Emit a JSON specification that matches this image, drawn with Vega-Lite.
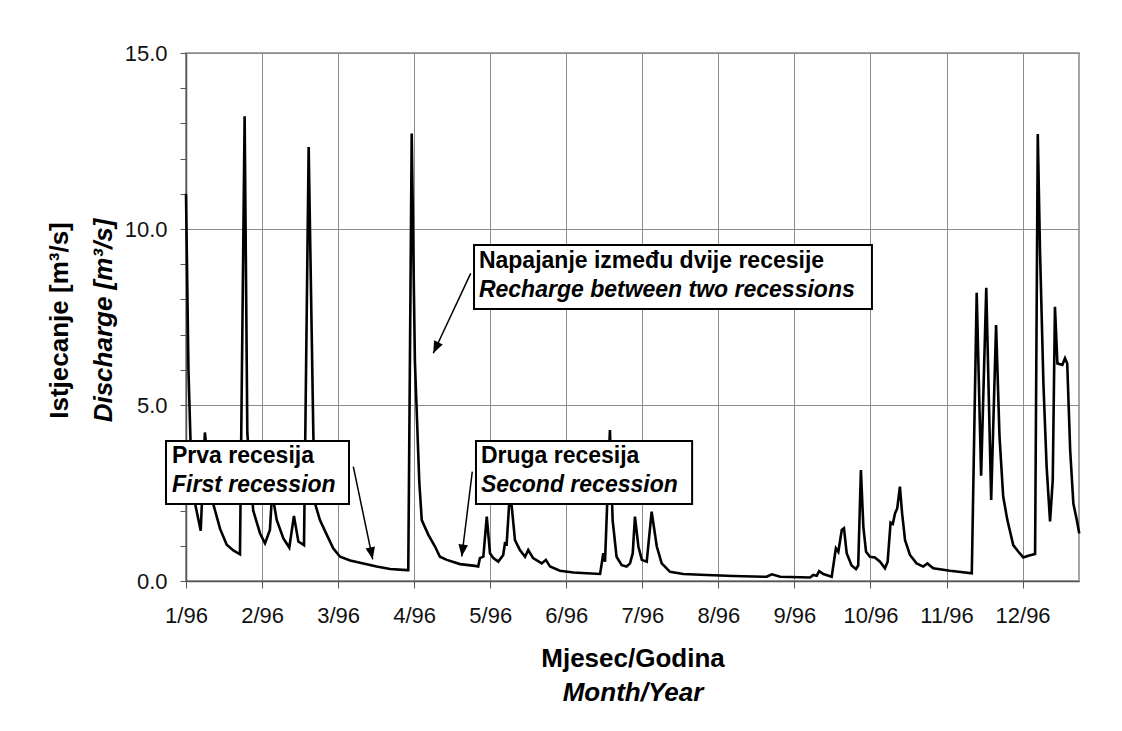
{
  "$schema": "https://vega.github.io/schema/vega-lite/v6.json",
  "width": 893,
  "height": 528,
  "autosize": {"type": "none"},
  "padding": {"left": 186, "top": 53, "right": 43, "bottom": 150},
  "background": "white",
  "config": {
    "view": {"stroke": "#a6a6a6", "strokeWidth": 2},
    "font": "Liberation Sans"
  },
  "datasets": {
    "flow": [
      {"day": 0, "q": 11.0}, {"day": 1.0, "q": 6.0}, {"day": 2.0, "q": 3.6}, {"day": 3.7, "q": 2.2},
      {"day": 6.0, "q": 1.43}, {"day": 7.7, "q": 4.22}, {"day": 9.0, "q": 3.3}, {"day": 11.1, "q": 2.19},
      {"day": 13.9, "q": 1.48}, {"day": 16.6, "q": 1.03}, {"day": 19.3, "q": 0.87}, {"day": 22.0, "q": 0.76},
      {"day": 23.9, "q": 13.2}, {"day": 25.0, "q": 4.2}, {"day": 27.4, "q": 2.0}, {"day": 30.2, "q": 1.35},
      {"day": 32.2, "q": 1.07}, {"day": 34.2, "q": 1.45}, {"day": 35.1, "q": 2.5}, {"day": 37.0, "q": 1.73},
      {"day": 39.7, "q": 1.21}, {"day": 42.1, "q": 0.95}, {"day": 44.0, "q": 1.85}, {"day": 45.8, "q": 1.12},
      {"day": 48.1, "q": 1.02}, {"day": 50.0, "q": 12.33}, {"day": 51.9, "q": 4.2}, {"day": 52.6, "q": 2.2},
      {"day": 54.6, "q": 1.73}, {"day": 57.4, "q": 1.31}, {"day": 60.0, "q": 0.93}, {"day": 62.8, "q": 0.69},
      {"day": 66.9, "q": 0.58}, {"day": 72.3, "q": 0.5}, {"day": 77.7, "q": 0.41}, {"day": 83.2, "q": 0.34},
      {"day": 90.0, "q": 0.31}, {"day": 90.6, "q": 0.31}, {"day": 92.0, "q": 12.71}, {"day": 93.3, "q": 6.25},
      {"day": 95.1, "q": 2.8}, {"day": 96.1, "q": 1.73}, {"day": 98.8, "q": 1.31}, {"day": 101.5, "q": 0.98},
      {"day": 103.5, "q": 0.69}, {"day": 106.3, "q": 0.6}, {"day": 111.7, "q": 0.48}, {"day": 117.8, "q": 0.43},
      {"day": 119.1, "q": 0.41}, {"day": 119.8, "q": 0.65}, {"day": 121.2, "q": 0.69}, {"day": 122.6, "q": 1.83},
      {"day": 123.9, "q": 0.79}, {"day": 125.3, "q": 0.65}, {"day": 127.3, "q": 0.55}, {"day": 129.3, "q": 0.74},
      {"day": 130.0, "q": 1.07}, {"day": 130.7, "q": 1.05}, {"day": 132.1, "q": 2.6}, {"day": 134.1, "q": 1.16},
      {"day": 136.1, "q": 0.88}, {"day": 138.2, "q": 0.69}, {"day": 139.5, "q": 0.88}, {"day": 141.5, "q": 0.65},
      {"day": 145.0, "q": 0.5}, {"day": 146.7, "q": 0.6}, {"day": 148.4, "q": 0.41}, {"day": 152.4, "q": 0.29},
      {"day": 157.9, "q": 0.24}, {"day": 163.3, "q": 0.22}, {"day": 168.8, "q": 0.2}, {"day": 170.1, "q": 0.79},
      {"day": 170.8, "q": 0.55}, {"day": 172.8, "q": 4.29}, {"day": 173.9, "q": 1.73}, {"day": 175.5, "q": 0.69},
      {"day": 177.6, "q": 0.45}, {"day": 179.6, "q": 0.41}, {"day": 181.0, "q": 0.5}, {"day": 182.1, "q": 0.79},
      {"day": 183.0, "q": 1.83}, {"day": 184.4, "q": 0.98}, {"day": 185.8, "q": 0.6}, {"day": 187.8, "q": 0.55},
      {"day": 189.8, "q": 1.97}, {"day": 191.9, "q": 0.98}, {"day": 193.9, "q": 0.5}, {"day": 197.3, "q": 0.26},
      {"day": 202.7, "q": 0.2}, {"day": 212.2, "q": 0.17}, {"day": 223.1, "q": 0.14}, {"day": 236.7, "q": 0.12},
      {"day": 238.8, "q": 0.19}, {"day": 242.2, "q": 0.12}, {"day": 254.4, "q": 0.1}, {"day": 255.7, "q": 0.17},
      {"day": 257.1, "q": 0.15}, {"day": 258.1, "q": 0.28}, {"day": 259.8, "q": 0.2}, {"day": 263.2, "q": 0.12},
      {"day": 264.9, "q": 0.93}, {"day": 265.9, "q": 0.83}, {"day": 267.3, "q": 1.45}, {"day": 268.2, "q": 1.5},
      {"day": 269.3, "q": 0.79}, {"day": 271.3, "q": 0.44}, {"day": 273.1, "q": 0.34}, {"day": 274.0, "q": 0.44},
      {"day": 275.1, "q": 3.15}, {"day": 276.1, "q": 1.54}, {"day": 277.2, "q": 0.83}, {"day": 278.8, "q": 0.69},
      {"day": 280.8, "q": 0.67}, {"day": 282.9, "q": 0.55}, {"day": 284.9, "q": 0.36}, {"day": 286.0, "q": 0.55},
      {"day": 287.2, "q": 1.66}, {"day": 288.1, "q": 1.62}, {"day": 289.0, "q": 1.92}, {"day": 289.9, "q": 2.06},
      {"day": 291.0, "q": 2.68}, {"day": 291.9, "q": 1.92}, {"day": 293.1, "q": 1.16}, {"day": 295.1, "q": 0.74},
      {"day": 297.8, "q": 0.5}, {"day": 300.5, "q": 0.41}, {"day": 302.2, "q": 0.5}, {"day": 304.6, "q": 0.36},
      {"day": 311.4, "q": 0.29}, {"day": 320.3, "q": 0.22}, {"day": 322.3, "q": 8.19}, {"day": 324.1, "q": 2.99},
      {"day": 326.2, "q": 8.33}, {"day": 328.2, "q": 2.3}, {"day": 330.2, "q": 7.27}, {"day": 331.6, "q": 4.1},
      {"day": 333.1, "q": 2.4}, {"day": 334.8, "q": 1.73}, {"day": 337.2, "q": 1.02}, {"day": 339.3, "q": 0.83},
      {"day": 341.3, "q": 0.67}, {"day": 343.3, "q": 0.72}, {"day": 346.1, "q": 0.77}, {"day": 347.2, "q": 12.7},
      {"day": 348.1, "q": 9.4}, {"day": 349.5, "q": 5.6}, {"day": 350.8, "q": 3.25}, {"day": 352.2, "q": 1.69},
      {"day": 353.3, "q": 2.87}, {"day": 354.2, "q": 7.79}, {"day": 355.2, "q": 6.18}, {"day": 357.2, "q": 6.14},
      {"day": 358.3, "q": 6.33}, {"day": 359.2, "q": 6.18}, {"day": 360.4, "q": 3.72}, {"day": 361.7, "q": 2.2},
      {"day": 363.1, "q": 1.73}, {"day": 364.1, "q": 1.35}
    ],
    "boxes": [
      {"id": "recharge", "x1": 117.4, "x2": 279.6, "y1": 9.545, "y2": 7.727},
      {"id": "first", "x1": -8.15, "x2": 66.44, "y1": 3.977, "y2": 2.1875},
      {"id": "second", "x1": 118.2, "x2": 206.3, "y1": 3.977, "y2": 2.1875}
    ],
    "labels": [
      {"x": 119.4, "y": 8.892, "lang": "hr", "text": "Napajanje između dvije recesije"},
      {"x": 119.4, "y": 8.068, "lang": "en", "text": "Recharge between two recessions"},
      {"x": -5.7, "y": 3.361, "lang": "hr", "text": "Prva recesija"},
      {"x": -5.7, "y": 2.537, "lang": "en", "text": "First recession"},
      {"x": 120.2, "y": 3.361, "lang": "hr", "text": "Druga recesija"},
      {"x": 120.2, "y": 2.537, "lang": "en", "text": "Second recession"}
    ],
    "arrows": [
      {"id": "recharge", "x": 116.05, "y": 8.74, "x2": 100.8, "y2": 6.47},
      {"id": "first", "x": 68.2, "y": 3.25, "x2": 76.1, "y2": 0.617},
      {"id": "second", "x": 116.7, "y": 3.105, "x2": 112.4, "y2": 0.696}
    ]
  },
  "resolve": {"axis": {"x": "independent", "y": "independent"}},
  "layer": [
    {
      "data": {"name": "flow"},
      "mark": {"type": "line", "color": "black", "strokeWidth": 2.6, "strokeJoin": "miter", "strokeMiterLimit": 3},
      "encoding": {
        "x": {
          "field": "day", "type": "quantitative",
          "scale": {"domain": [0, 364], "nice": false, "zero": false},
          "axis": {
            "orient": "bottom",
            "values": [0, 31, 62, 93, 124, 155, 186, 217, 248, 279, 310, 341],
            "labelExpr": "(round(datum.value / 31) + 1) + '/96'",
            "grid": true, "gridColor": "#8c8c8c", "gridWidth": 1,
            "domainColor": "#555555", "domainWidth": 1.5,
            "tickColor": "#555555", "tickSize": 7, "tickWidth": 1,
            "labelFont": "Liberation Sans", "labelFontSize": 22, "labelColor": "#111111",
            "labelPadding": 17, "labelFlush": false, "labelOverlap": false,
            "title": "Mjesec/Godina",
            "titleFont": "Liberation Sans", "titleFontSize": 26, "titleFontWeight": "bold", "titleColor": "black",
            "titleX": 446.5, "titleY": 85, "titleAlign": "center", "titleBaseline": "alphabetic", "titleAnchor": null
          }
        },
        "y": {
          "field": "q", "type": "quantitative",
          "scale": {"domain": [0, 15], "nice": false, "zero": true},
          "axis": {
            "orient": "left",
            "values": [0, 1, 2, 3, 4, 5, 6, 7, 8, 9, 10, 11, 12, 13, 14, 15],
            "labelExpr": "datum.value % 5 === 0 ? format(datum.value, '.1f') : ''",
            "grid": true, "gridColor": "#8c8c8c", "gridWidth": 1,
            "gridOpacity": {"condition": {"test": "datum.value % 5 === 0", "value": 1}, "value": 0},
            "domainColor": "#555555", "domainWidth": 1.5,
            "tickColor": "#555555", "tickSize": 6, "tickWidth": 1,
            "labelFont": "Liberation Sans", "labelFontSize": 22, "labelColor": "#111111",
            "labelPadding": 13, "labelFlush": false, "labelOverlap": false,
            "title": "Istjecanje [m³/s]",
            "titleFont": "Liberation Sans", "titleFontSize": 26, "titleFontWeight": "bold", "titleColor": "black",
            "titleAngle": 270, "titleX": -119, "titleY": 267, "titleAlign": "center", "titleBaseline": "alphabetic", "titleAnchor": null
          }
        }
      }
    },
    {
      "data": {"name": "boxes"},
      "mark": {"type": "rect", "fill": "white", "stroke": "black", "strokeWidth": 2},
      "encoding": {
        "x": {
          "field": "x1", "type": "quantitative",
          "axis": {
            "orient": "bottom", "labels": false, "ticks": false, "domain": false, "grid": false,
            "title": "Month/Year",
            "titleFont": "Liberation Sans", "titleFontSize": 26, "titleFontWeight": "bold", "titleFontStyle": "italic", "titleColor": "black",
            "titleX": 446.5, "titleY": 119, "titleAlign": "center", "titleBaseline": "alphabetic", "titleAnchor": null
          }
        },
        "x2": {"field": "x2"},
        "y": {
          "field": "y1", "type": "quantitative",
          "axis": {
            "orient": "left", "labels": false, "ticks": false, "domain": false, "grid": false,
            "title": "Discharge [m³/s]",
            "titleFont": "Liberation Sans", "titleFontSize": 26, "titleFontWeight": "bold", "titleFontStyle": "italic", "titleColor": "black",
            "titleAngle": 270, "titleX": -75, "titleY": 267, "titleAlign": "center", "titleBaseline": "alphabetic", "titleAnchor": null
          }
        },
        "y2": {"field": "y2"}
      }
    },
    {
      "data": {"name": "labels"},
      "transform": [{"filter": "datum.lang === 'hr'"}],
      "mark": {"type": "text", "align": "left", "baseline": "alphabetic", "font": "Liberation Sans", "fontSize": 23, "fontWeight": "bold", "color": "black"},
      "encoding": {
        "x": {"field": "x", "type": "quantitative", "axis": null},
        "y": {"field": "y", "type": "quantitative", "axis": null},
        "text": {"field": "text"}
      }
    },
    {
      "data": {"name": "labels"},
      "transform": [{"filter": "datum.lang === 'en'"}],
      "mark": {"type": "text", "align": "left", "baseline": "alphabetic", "font": "Liberation Sans", "fontSize": 23, "fontWeight": "bold", "fontStyle": "italic", "color": "black"},
      "encoding": {
        "x": {"field": "x", "type": "quantitative", "axis": null},
        "y": {"field": "y", "type": "quantitative", "axis": null},
        "text": {"field": "text"}
      }
    },
    {
      "data": {"name": "arrows"},
      "mark": {"type": "rule", "color": "black", "strokeWidth": 1.5},
      "encoding": {
        "x": {"field": "x", "type": "quantitative", "axis": null},
        "y": {"field": "y", "type": "quantitative", "axis": null},
        "x2": {"field": "x2"},
        "y2": {"field": "y2"}
      }
    },
    {
      "data": {"name": "arrows"},
      "transform": [{"filter": "datum.id === 'recharge'"}],
      "mark": {"type": "point", "shape": "M0,0L-0.4,1L0.4,1Z", "size": 576, "filled": true, "color": "black", "opacity": 1, "angle": 205.1},
      "encoding": {
        "x": {"field": "x2", "type": "quantitative", "axis": null},
        "y": {"field": "y2", "type": "quantitative", "axis": null}
      }
    },
    {
      "data": {"name": "arrows"},
      "transform": [{"filter": "datum.id === 'first'"}],
      "mark": {"type": "point", "shape": "M0,0L-0.4,1L0.4,1Z", "size": 576, "filled": true, "color": "black", "opacity": 1, "angle": 168.2},
      "encoding": {
        "x": {"field": "x2", "type": "quantitative", "axis": null},
        "y": {"field": "y2", "type": "quantitative", "axis": null}
      }
    },
    {
      "data": {"name": "arrows"},
      "transform": [{"filter": "datum.id === 'second'"}],
      "mark": {"type": "point", "shape": "M0,0L-0.4,1L0.4,1Z", "size": 576, "filled": true, "color": "black", "opacity": 1, "angle": 187.1},
      "encoding": {
        "x": {"field": "x2", "type": "quantitative", "axis": null},
        "y": {"field": "y2", "type": "quantitative", "axis": null}
      }
    }
  ]
}
